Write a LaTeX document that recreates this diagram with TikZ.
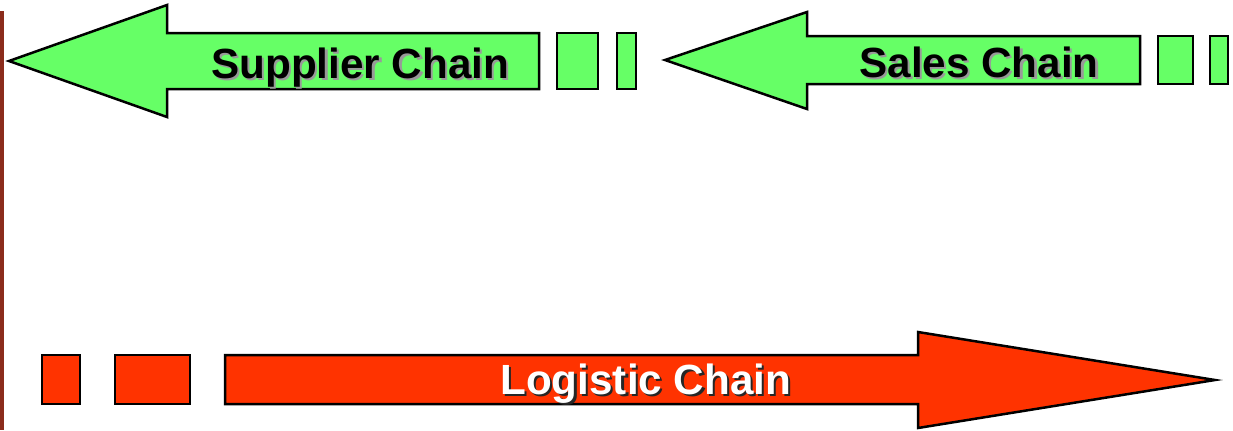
\documentclass[tikz,border=0pt]{standalone}
\usepackage{fontspec}
\setmainfont{Liberation Sans}
\usetikzlibrary{positioning}
\definecolor{chaingreen}{HTML}{66FF66}
\definecolor{chainred}{HTML}{FF3300}
\definecolor{barbrown}{HTML}{8B2C1C}

\begin{document}
\begin{tikzpicture}[
  x=0.5pt, y=-0.5pt,
  greenpart/.style={draw=black, line width=1.25pt, fill=chaingreen},
  redpart/.style={draw=black, line width=1.25pt, fill=chainred},
  lbl/.style={font=\fontsize{21.1}{25}\selectfont\bfseries, inner sep=0pt,
    anchor=base west},
  shade/.style={lbl, text=black!40, xshift=1.1pt, yshift=-1.1pt},
  darkshade/.style={lbl, text=black!85, xshift=1.1pt, yshift=-1.1pt}
]
\useasboundingbox (0,0) rectangle (1233,430);

% ── margin bar ───────────────────────────────────────────────────────────
\fill[barbrown] (0,11) rectangle (4,430);

% ── Supplier chain ───────────────────────────────────────────────────────
\draw[greenpart] (9,61) -- (167,5) -- (167,33) -- (539,33) -- (539,89)
  -- (167,89) -- (167,117) -- cycle;
\draw[greenpart] (557,33) rectangle (598,89);
\draw[greenpart] (617,33) rectangle (636,89);
\node[shade] (supS) at (211,78) {Supplier Chain};
\node[lbl] (sup) at (211,78) {Supplier Chain};

% ── Sales chain ──────────────────────────────────────────────────────────
\draw[greenpart] (665,60) -- (807,12) -- (807,36) -- (1140,36) -- (1140,84)
  -- (807,84) -- (807,109) -- cycle;
\draw[greenpart] (1158,36) rectangle (1193,84);
\draw[greenpart] (1210,36) rectangle (1228,84);
\node[shade] (salS) at (859,77) {Sales Chain};
\node[lbl] (sal) at (859,77) {Sales Chain};

% ── Logistic chain ───────────────────────────────────────────────────────
\draw[redpart] (42,355) rectangle (80,404);
\draw[redpart] (115,355) rectangle (190,404);
\draw[redpart] (225,355) -- (918,355) -- (918,332) -- (1215,380)
  -- (918,428) -- (918,404) -- (225,404) -- cycle;
\node[darkshade] (logS) at (500,394) {Logistic Chain};
\node[lbl, text=white] (log) at (500,394) {Logistic Chain};

\end{tikzpicture}
\end{document}
